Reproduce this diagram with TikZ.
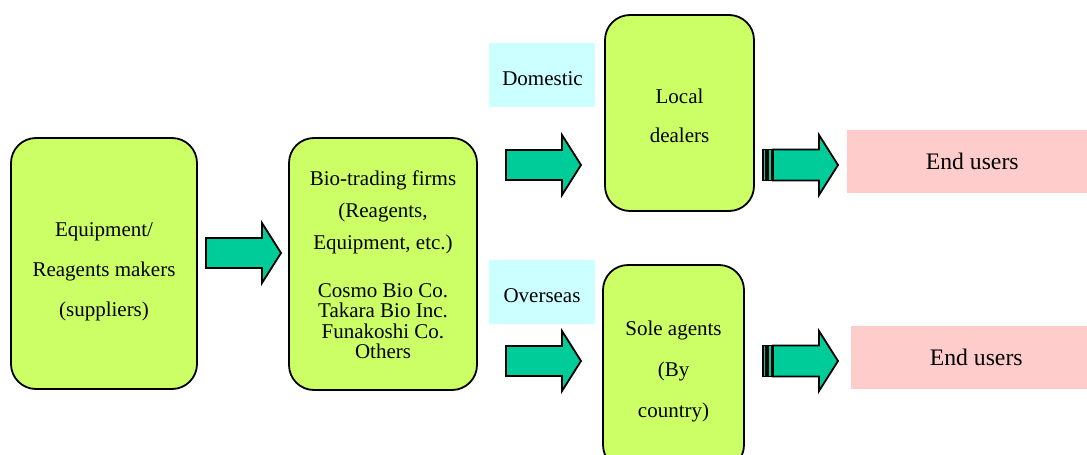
\documentclass[tikz,border=0pt]{standalone}
\usepackage{fontspec}
\setmainfont{Liberation Serif}
\definecolor{boxgreen}{HTML}{CCFF66}
\definecolor{arrowgreen}{HTML}{00CC99}
\definecolor{labelcyan}{HTML}{CCFFFF}
\definecolor{userpink}{HTML}{FFCCCC}
\begin{document}
\begin{tikzpicture}[x=1pt,y=-1pt,
  stage/.style={draw=black, line width=1.8pt, fill=boxgreen, rounded corners=25pt,
    inner sep=0pt, minimum width=#1},
  stagetext/.style={align=center, inner sep=0pt, font=\fontsize{21}{#1}\selectfont},
  tag/.style={fill=labelcyan, inner sep=0pt, minimum width=106pt, minimum height=64pt},
  tagtext/.style={inner sep=0pt, font=\fontsize{21}{25}\selectfont},
  users/.style={fill=userpink, inner sep=0pt, anchor=west, minimum height=63pt,
    font=\fontsize{23.7}{28}\selectfont},
  flow/.style={draw=black, line width=1.8pt, fill=arrowgreen, line join=miter},
  blockarrow/.pic={
    \draw[flow] (0,-15) -- (56,-15) -- (56,-30) -- (75,0) -- (56,30) -- (56,15) -- (0,15) -- cycle;
  },
  stripedarrow/.pic={
    \draw[flow, line width=1.3pt] (0,-15.5) rectangle (3,15.5);
    \draw[flow, line width=1.3pt] (5,-15.5) rectangle (9,15.5);
    \draw[flow] (10,-15.5) -- (56,-15.5) -- (56,-30) -- (75,0) -- (56,30) -- (56,15.5) -- (10,15.5) -- cycle;
  }
]
\useasboundingbox (0,0) rectangle (1087,455);

% supplier and trading-firm boxes
\node[stage=186pt, minimum height=251pt] (makers) at (104,263.5) {};
\node[stagetext=40] (makers-t) at (104,272) {Equipment/\\Reagents makers\\(suppliers)};

\node[stage=188pt, minimum height=252pt] (firms) at (383,264) {};
\node[stagetext=32] (firms-t) at (383,212) {Bio-trading firms\\(Reagents,\\Equipment, etc.)};
\node[stagetext=20.5] (firms-list) at (383,321) {Cosmo Bio Co.\\Takara Bio Inc.\\Funakoshi Co.\\Others};

% distribution channels
\node[tag] (domestic) at (542,75) {};
\node[tagtext] (domestic-t) at (542.5,78.5) {Domestic};
\node[tag] (overseas) at (542,292) {};
\node[tagtext] (overseas-t) at (542,295.5) {Overseas};

\node[stage=149pt, minimum height=196pt] (dealers) at (679.5,113) {};
\node[stagetext=39] (dealers-t) at (679.5,115.5) {Local\\dealers};

\node[stage=141pt, minimum height=205pt] (agents) at (673.5,367.5) {};
\node[stagetext=41] (agents-t) at (673.5,371) {Sole agents\\(By\\country)};

% end users
\node[users, minimum width=245pt] (users1) at (847,161.5) {\hspace*{5pt}End users};
\node[users, minimum width=241pt] (users2) at (851,357) {\hspace*{9pt}End users};

% block arrows between stages
\pic at (206,253) {blockarrow};
\pic at (506,165) {blockarrow};
\pic at (506,361) {blockarrow};
\pic at (763,165) {stripedarrow};
\pic at (763,361) {stripedarrow};
\end{tikzpicture}
\end{document}
